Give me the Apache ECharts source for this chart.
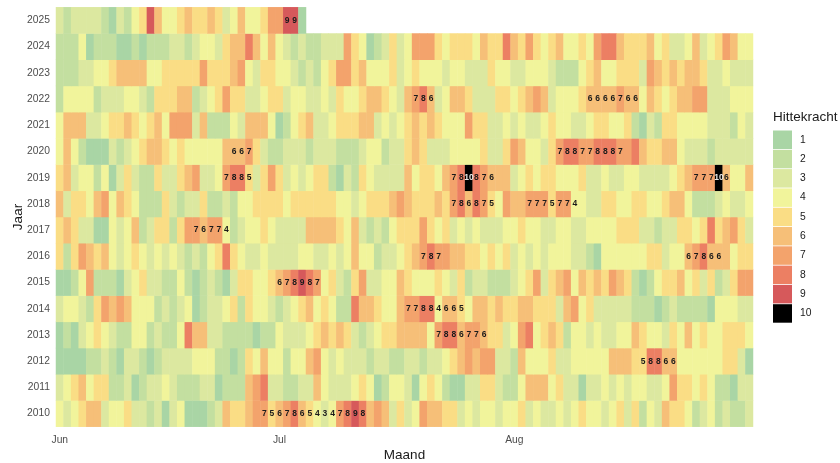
<!DOCTYPE html>
<html>
<head>
<meta charset="utf-8">
<style>html,body{margin:0;padding:0;background:#fff}#c{width:840px;height:463px}</style>
<script src="https://cdn.jsdelivr.net/npm/echarts@6/dist/echarts.min.js"></script>
</head>
<body>
<div id="c"></div>
<script>
const years = ['2010','2011','2012','2013','2014','2015','2016','2017','2018','2019','2020','2021','2022','2023','2024','2025'];
const monthTicks = {0:'Jun',29:'Jul',60:'Aug'};
const levels = [1,2,3,4,5,6,7,8,9,10];
const levelColors = ['#A9D5A5','#C3DFA0','#DCE8A0','#F1F49B','#FADD85','#F6BF78','#F3A36C','#EC7F63','#D6595B','#000000'];

const y2010 = [4,3,4,5,6,6,3,4,4,5, 3,3,2,3,1,3,4,1,1,1, 2,3,6,5,5,6,7,7,5,6, 7,8,6,5,4,3,4,7,8,9, 8,6,7,6,3,5,3,4,7,6, 6,5,5,3,4,3,4,4,3,4, 4,5,3,4,3,3,4,3,4,5, 4,4,3,4,5,3,5,2,4,3, 6,5,5,4,2,3,4,2,3,2,2,3];
const y2011 = [3,4,5,6,4,5,5,2,2,3, 1,2,3,3,4,3,2,2,2,3, 3,1,2,2,2,6,7,8,3,3, 2,2,3,3,6,4,3,3,3,4, 5,4,1,2,4,4,3,1,4,5, 4,2,1,1,3,3,5,5,3,2, 2,4,6,6,6,4,5,3,3,1, 3,3,4,3,4,3,4,4,3,3, 4,7,5,5,4,5,4,2,2,1,3,3];
const y2012 = [1,1,1,1,2,2,3,2,1,3, 3,2,1,2,3,3,3,3,4,4, 4,2,2,1,2,5,4,6,4,4, 2,4,4,6,7,4,3,4,3,3, 3,2,3,3,2,2,3,3,2,3, 3,4,5,6,7,6,7,7,3,3, 2,6,4,4,4,5,3,3,4,4, 4,4,4,6,6,6,5,5,8,8, 6,6,4,4,4,4,4,4,5,5,3,1];
const y2013 = [1,2,1,3,4,5,4,3,2,2, 4,4,2,3,2,2,4,8,6,6, 3,3,2,2,2,2,1,2,2,4, 3,3,3,4,5,6,5,6,5,3, 2,3,4,5,5,6,6,6,6,4, 7,8,8,6,7,7,6,5,5,3, 4,7,8,4,5,6,5,2,4,4, 3,4,3,3,4,4,6,5,4,4, 3,5,4,6,4,5,4,4,5,5,5,4];
const y2014 = [3,4,4,3,2,5,7,6,7,6, 4,4,4,2,3,2,3,4,1,2, 3,3,4,5,2,5,4,4,3,2, 3,4,5,6,4,5,4,2,2,8, 6,6,5,4,4,6,7,7,8,8, 4,6,6,5,4,6,6,5,6,5, 5,6,6,5,5,5,3,6,7,4, 5,3,3,3,3,3,2,2,2,1, 2,3,2,2,2,2,1,4,4,4,3,3];
const y2015 = [1,1,2,4,7,2,2,2,1,3, 4,5,3,3,2,2,4,2,1,2, 3,2,1,3,5,5,4,4,5,6, 7,8,9,8,7,4,5,3,2,5, 7,3,3,4,4,6,5,4,4,4, 5,4,3,5,2,3,3,2,2,2, 3,4,5,7,3,5,6,7,4,6, 5,6,5,7,6,5,2,1,2,4, 5,5,6,4,5,3,5,2,3,5,7,7];
const y2016 = [5,2,5,7,6,5,6,4,3,4, 5,4,3,4,3,4,3,2,3,2, 4,5,8,5,4,3,3,4,3,3, 3,3,4,4,3,3,4,3,4,6, 4,4,2,3,3,4,5,6,7,8, 7,7,6,6,5,5,4,5,4,5, 3,4,3,4,3,4,4,4,3,3, 2,1,4,4,4,4,4,4,5,5, 3,4,4,6,7,8,6,6,6,4,5,5];
const y2017 = [5,6,5,3,3,1,1,4,3,4, 6,2,3,5,5,2,5,7,7,6, 7,7,4,2,3,4,4,5,4,3, 3,3,3,6,6,6,6,5,4,6, 3,2,3,2,4,5,5,5,7,5, 4,5,3,4,3,4,3,3,3,4, 4,5,4,4,3,3,4,4,3,3, 4,4,4,4,5,5,5,3,3,2, 3,3,5,5,4,5,8,5,6,7,5,3];
const y2018 = [6,3,5,5,4,6,7,4,6,5, 4,2,2,2,5,3,2,3,3,5, 2,2,3,2,4,4,5,5,5,5, 4,5,5,5,5,5,5,4,4,3, 4,5,5,5,6,7,6,5,5,5, 6,5,7,8,6,8,7,5,4,7, 6,6,7,7,7,5,7,7,4,4, 3,3,5,5,4,4,5,5,4,4, 5,6,6,4,2,2,2,3,4,3,3,4];
const y2019 = [5,6,3,4,4,2,4,1,3,5, 3,2,2,5,3,3,5,6,7,3, 3,4,7,8,8,5,3,5,7,5, 3,4,3,4,5,5,2,1,3,2, 5,4,3,3,3,3,6,4,5,5, 4,6,7,8,10,8,7,6,6,6, 3,4,5,4,5,5,4,4,4,5, 3,3,4,3,3,4,4,3,3,3, 3,4,5,6,7,7,7,10,6,4,4,6];
const y2020 = [4,6,4,2,1,1,1,3,2,3, 4,5,6,6,5,4,5,4,4,4, 4,4,6,6,6,7,5,3,2,2, 3,3,3,2,3,3,3,2,2,2, 3,4,4,2,3,3,5,6,5,3, 3,3,4,4,4,4,5,3,3,5, 7,6,4,4,3,5,7,8,8,7, 7,8,8,8,7,7,8,6,5,5, 6,6,4,3,3,3,2,3,3,3,3,3];
const y2021 = [4,6,6,6,3,3,4,5,5,6, 5,4,5,6,4,7,7,7,3,6, 2,2,2,4,3,6,6,6,4,1, 2,4,5,6,3,3,4,5,5,5, 6,6,3,4,3,4,5,6,5,6, 5,4,4,4,7,5,5,3,3,4, 3,4,3,3,4,5,4,4,3,3, 4,5,5,4,4,5,2,1,3,2, 5,5,4,4,4,4,3,3,3,2,4,3];
const y2022 = [2,4,4,4,4,2,3,3,3,4, 4,3,2,5,5,5,6,6,2,3, 4,5,7,5,5,3,3,4,5,5, 3,4,4,3,3,4,3,5,4,4, 5,6,6,5,4,3,6,7,8,6, 3,4,6,6,5,3,3,3,5,5, 4,5,6,7,6,3,4,4,4,5, 6,6,6,6,7,6,6,4,6,5, 4,5,6,6,7,7,3,3,3,4,4,4];
const y2023 = [2,2,2,3,3,4,4,5,6,6, 6,6,4,4,5,5,5,5,5,7, 5,5,5,6,7,4,3,5,5,4, 4,3,2,3,2,4,5,7,7,5, 6,4,4,4,5,3,4,5,4,4, 4,3,4,4,3,3,3,5,4,4, 3,3,4,4,4,3,2,2,2,4, 5,6,4,4,5,5,5,3,7,6, 5,6,5,6,6,5,3,3,4,3,3,3];
const y2024 = [2,2,2,4,1,2,2,2,1,1, 2,1,2,2,2,3,3,2,3,4, 4,3,5,6,6,8,6,4,6,4, 3,2,3,2,2,3,3,3,7,5, 4,1,2,3,5,3,4,7,7,7, 5,4,5,5,5,4,6,5,5,8, 6,5,7,5,4,5,6,4,4,5, 4,7,8,8,6,5,5,5,6,4, 5,3,3,4,6,3,4,5,7,6,4,4];
const y2025 = [3,2,3,3,3,3,2,1,3,2, 4,5,9,6,4,4,5,6,5,5, 6,5,3,4,6,4,4,5,7,7, 9,9,1];
const rows = [y2010,y2011,y2012,y2013,y2014,y2015,y2016,y2017,y2018,y2019,y2020,y2021,y2022,y2023,y2024,y2025];

// labelled heat-wave runs: [year, first day column, last day column]
const heatwaves = [
  ['2025',30,31],['2022',47,49],['2022',70,76],['2020',23,25],['2020',66,74],
  ['2019',22,25],['2019',52,57],['2019',84,88],['2018',52,57],['2018',62,68],
  ['2017',18,22],['2016',48,50],['2016',83,87],['2015',29,34],['2014',46,53],
  ['2013',50,56],['2012',77,81],['2010',27,40]
];

const days = Array.from({length:92},(_,i)=>String(i));
const isLabelled = (yi,d)=>heatwaves.some(h=>h[0]===years[yi]&&d>=h[1]&&d<=h[2]);
const cells = [];
rows.forEach((r,yi)=>r.forEach((v,d)=>{
  const item = {value:[d,yi,v]};
  if(isLabelled(yi,d)){
    item.label = {show:true,color:v===10?'#e8e8e8':'#1a1a1a'};
  }
  cells.push(item);
}));

const chart = echarts.init(document.getElementById('c'),null,{renderer:'canvas'});
const FONT = '"Liberation Sans",Arial,sans-serif';
chart.setOption({
  animation:false,
  backgroundColor:'#fff',
  title:{text:'Hittekracht',left:773,top:110,padding:0,textStyle:{fontFamily:FONT,fontSize:13.5,fontWeight:'normal',color:'#1a1a1a'}},
  grid:{left:56,right:87,top:7.3,bottom:36.3,containLabel:false,outerBoundsMode:'none'},
  xAxis:{
    type:'category',data:days,name:'Maand',nameLocation:'middle',nameGap:29,nameMoveOverlap:false,
    nameTextStyle:{fontFamily:FONT,fontSize:13.5,color:'#1a1a1a',verticalAlign:'middle'},
    axisLine:{show:false},axisTick:{show:false},splitLine:{show:false},
    axisLabel:{interval:(i)=>monthTicks[i]!==undefined,formatter:(v,i)=>monthTicks[i]||'',margin:8,fontFamily:FONT,fontSize:10.3,color:'#4d4d4d'}
  },
  yAxis:{
    type:'category',data:years,name:'Jaar',nameLocation:'middle',nameGap:38,nameMoveOverlap:false,
    nameTextStyle:{fontFamily:FONT,fontSize:13.5,color:'#1a1a1a',verticalAlign:'middle'},
    axisLine:{show:false},axisTick:{show:false},splitLine:{show:false},
    axisLabel:{margin:6,interval:0,fontFamily:FONT,fontSize:10.3,color:'#4d4d4d'}
  },
  visualMap:{
    type:'piecewise',orient:'vertical',left:773,top:130.5,padding:0,inverse:true,itemWidth:19,itemHeight:18.5,itemGap:0.8,
    itemSymbol:'rect',align:'left',textGap:8,selectedMode:false,dimension:2,seriesIndex:0,
    pieces:levels.map((l,i)=>({value:l,label:String(l),color:levelColors[i]})),
    textStyle:{fontFamily:FONT,fontSize:10.3,color:'#1a1a1a'}
  },
  series:[{
    type:'heatmap',data:cells,
    itemStyle:{borderWidth:0},
    label:{show:false,fontFamily:FONT,fontSize:8.5,fontWeight:'bold',formatter:(p)=>String(p.value[2])},
    emphasis:{disabled:true}
  }]
});
</script>
</body>
</html>
